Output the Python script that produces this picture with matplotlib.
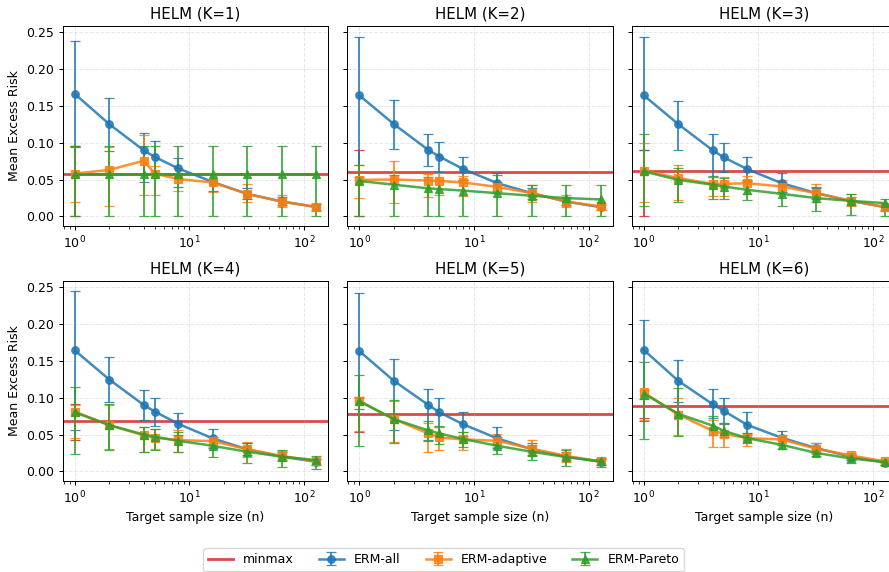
import matplotlib
matplotlib.use("Agg")
import matplotlib.pyplot as plt

# target sample sizes
n_vals = [1, 2, 4, 5, 8, 16, 32, 64, 128]
K_vals = [1, 2, 3, 4, 5, 6]

# minmax level per K, with its spread (shown at n=1)
minmax_mean = [0.057, 0.060, 0.061, 0.0677, 0.0776, 0.088]
minmax_lo = [0.0, 0.0, 0.0, 0.042, 0.0537, 0.0717]
minmax_hi = [0.096, 0.0905, 0.0905, 0.0907, 0.101, 0.098]

# ERM-all
all_mean = [
    [0.166, 0.125, 0.0895, 0.0805, 0.065, 0.0466, 0.0305, 0.0203, 0.0127],
    [0.164, 0.125, 0.090, 0.081, 0.0644, 0.045, 0.0315, 0.020, 0.0125],
    [0.164, 0.125, 0.0895, 0.080, 0.064, 0.045, 0.0315, 0.021, 0.0125],
    [0.164, 0.1245, 0.090, 0.081, 0.0645, 0.0447, 0.030, 0.020, 0.013],
    [0.163, 0.1227, 0.090, 0.080, 0.064, 0.0447, 0.030, 0.020, 0.013],
    [0.1646, 0.1227, 0.091, 0.082, 0.063, 0.0455, 0.0316, 0.020, 0.012],
]
all_lo = [
    [0.094, 0.089, 0.046, 0.058, 0.040, 0.035, 0.024, 0.015, 0.009],
    [0.054, 0.092, 0.068, 0.060, 0.0495, 0.0315, 0.024, 0.015, 0.009],
    [0.090, 0.090, 0.054, 0.060, 0.048, 0.033, 0.024, 0.016, 0.009],
    [0.0555, 0.094, 0.070, 0.062, 0.050, 0.032, 0.022, 0.015, 0.009],
    [0.085, 0.056, 0.042, 0.060, 0.048, 0.032, 0.022, 0.015, 0.009],
    [0.068, 0.094, 0.072, 0.064, 0.050, 0.036, 0.025, 0.016, 0.009],
]
all_hi = [
    [0.238, 0.161, 0.113, 0.102, 0.079, 0.058, 0.038, 0.026, 0.017],
    [0.243, 0.158, 0.111, 0.101, 0.080, 0.0585, 0.039, 0.026, 0.016],
    [0.243, 0.156, 0.111, 0.100, 0.080, 0.059, 0.039, 0.026, 0.016],
    [0.244, 0.155, 0.110, 0.0997, 0.079, 0.058, 0.038, 0.026, 0.017],
    [0.242, 0.152, 0.112, 0.099, 0.080, 0.060, 0.038, 0.026, 0.017],
    [0.205, 0.151, 0.111, 0.100, 0.080, 0.0546, 0.038, 0.024, 0.015],
]

# ERM-adaptive
ada_mean = [
    [0.058, 0.063, 0.0755, 0.058, 0.0506, 0.046, 0.0305, 0.020, 0.0127],
    [0.0495, 0.050, 0.0486, 0.048, 0.046, 0.040, 0.0315, 0.020, 0.0135],
    [0.062, 0.052, 0.044, 0.044, 0.045, 0.0405, 0.0315, 0.021, 0.0126],
    [0.081, 0.0627, 0.0487, 0.0455, 0.0424, 0.041, 0.030, 0.021, 0.0135],
    [0.0956, 0.0708, 0.0514, 0.046, 0.0433, 0.0415, 0.0307, 0.021, 0.0135],
    [0.107, 0.077, 0.055, 0.051, 0.045, 0.0433, 0.0307, 0.0216, 0.0135],
]
ada_lo = [
    [0.020, 0.0136, 0.029, 0.0285, 0.035, 0.033, 0.020, 0.013, 0.008],
    [0.025, 0.018, 0.026, 0.029, 0.028, 0.034, 0.020, 0.0126, 0.009],
    [0.020, 0.0225, 0.027, 0.027, 0.030, 0.030, 0.020, 0.014, 0.008],
    [0.045, 0.030, 0.026, 0.030, 0.0266, 0.033, 0.020, 0.014, 0.009],
    [0.055, 0.040, 0.0257, 0.029, 0.0284, 0.033, 0.021, 0.013, 0.009],
    [0.070, 0.050, 0.0325, 0.0334, 0.034, 0.036, 0.024, 0.017, 0.011],
]
ada_hi = [
    [0.096, 0.0936, 0.110, 0.068, 0.066, 0.058, 0.044, 0.029, 0.017],
    [0.070, 0.075, 0.057, 0.0585, 0.055, 0.046, 0.043, 0.029, 0.018],
    [0.100, 0.070, 0.054, 0.054, 0.055, 0.0495, 0.0437, 0.030, 0.017],
    [0.090, 0.090, 0.060, 0.057, 0.056, 0.047, 0.040, 0.028, 0.017],
    [0.100, 0.095, 0.066, 0.060, 0.054, 0.0505, 0.043, 0.030, 0.017],
    [0.110, 0.100, 0.0695, 0.066, 0.052, 0.049, 0.038, 0.025, 0.016],
]

# ERM-Pareto
par_mean = [
    [0.057, 0.057, 0.057, 0.057, 0.057, 0.057, 0.057, 0.057, 0.057],
    [0.048, 0.043, 0.038, 0.037, 0.035, 0.0315, 0.028, 0.0248, 0.023],
    [0.061, 0.0495, 0.043, 0.0405, 0.036, 0.0306, 0.0248, 0.021, 0.018],
    [0.080, 0.0627, 0.050, 0.047, 0.0415, 0.0347, 0.0266, 0.020, 0.0153],
    [0.095, 0.0708, 0.0555, 0.0514, 0.044, 0.0347, 0.0266, 0.0194, 0.0135],
    [0.1055, 0.078, 0.062, 0.055, 0.045, 0.036, 0.025, 0.0176, 0.0126],
]
par_lo = [
    [0.0, 0.0, 0.0, 0.0, 0.0, 0.0, 0.0, 0.0, 0.0],
    [0.0, 0.0, 0.0, 0.0, 0.0, 0.0, 0.0, 0.0, 0.0],
    [0.0135, 0.020, 0.024, 0.0234, 0.0225, 0.0135, 0.008, 0.002, 0.001],
    [0.0235, 0.029, 0.026, 0.0285, 0.026, 0.020, 0.011, 0.0054, 0.0027],
    [0.034, 0.0383, 0.041, 0.0365, 0.033, 0.0235, 0.016, 0.0072, 0.0063],
    [0.0437, 0.048, 0.049, 0.046, 0.039, 0.0307, 0.0207, 0.0117, 0.009],
]
par_hi = [
    [0.096, 0.096, 0.096, 0.096, 0.096, 0.096, 0.096, 0.096, 0.096],
    [0.070, 0.056, 0.053, 0.050, 0.050, 0.056, 0.042, 0.042, 0.042],
    [0.111, 0.065, 0.055, 0.052, 0.0495, 0.046, 0.040, 0.030, 0.023],
    [0.1146, 0.091, 0.060, 0.057, 0.054, 0.047, 0.039, 0.029, 0.021],
    [0.131, 0.097, 0.0685, 0.062, 0.054, 0.047, 0.0356, 0.029, 0.0185],
    [0.148, 0.113, 0.075, 0.066, 0.052, 0.042, 0.031, 0.0225, 0.016],
]

methods = [
    ("ERM-all", all_mean, all_lo, all_hi, "#1f77b4", "o"),
    ("ERM-adaptive", ada_mean, ada_lo, ada_hi, "#ff7f0e", "s"),
    ("ERM-Pareto", par_mean, par_lo, par_hi, "#2ca02c", "^"),
]

W, H = 889, 572
fig = plt.figure(figsize=(W / 90, H / 90), dpi=90)

# axes rectangles in pixels (left, top); panel size 265.6 x 200
lefts = [62.7, 347.3, 631.7]
tops = [26, 281]
aw, ah = 265.6, 200

axes = []
for i, K in enumerate(K_vals):
    r, c = divmod(i, 3)
    rect = [lefts[c] / W, 1 - (tops[r] + ah) / H, aw / W, ah / H]
    ax = fig.add_axes(rect)
    axes.append(ax)

    ax.axhline(minmax_mean[i], color="#d62728", lw=2.2, alpha=0.85, label="minmax", zorder=1)
    ax.errorbar([n_vals[0]], [minmax_mean[i]],
                yerr=[[minmax_mean[i] - minmax_lo[i]], [minmax_hi[i] - minmax_mean[i]]],
                fmt="none", ecolor="#d62728", elinewidth=1.5, capsize=4, alpha=0.85)

    for name, mean, lo, hi, col, mk in methods:
        m = mean[i]
        yerr = [[m[j] - lo[i][j] for j in range(len(n_vals))],
                [hi[i][j] - m[j] for j in range(len(n_vals))]]
        ax.errorbar(n_vals, m, yerr=yerr, color=col, marker=mk, ms=6, lw=2,
                    elinewidth=1.5, capsize=4, alpha=0.85, label=name)

    ax.set_xscale("log")
    ax.set_ylim(-0.013, 0.258)
    ax.set_yticks([0.0, 0.05, 0.10, 0.15, 0.20, 0.25])
    ax.grid(True, which="major", ls="--", alpha=0.3)
    ax.set_title("HELM (K={})".format(K))
    if c == 0:
        ax.set_ylabel("Mean Excess Risk")
    else:
        ax.tick_params(labelleft=False)
    if r == 1:
        ax.set_xlabel("Target sample size (n)")

handles, labels = axes[0].get_legend_handles_labels()
fig.legend(handles, labels, loc="center", ncol=4, bbox_to_anchor=(0.499, 1 - 559.5 / H))

fig.savefig("out.png", dpi=90)
